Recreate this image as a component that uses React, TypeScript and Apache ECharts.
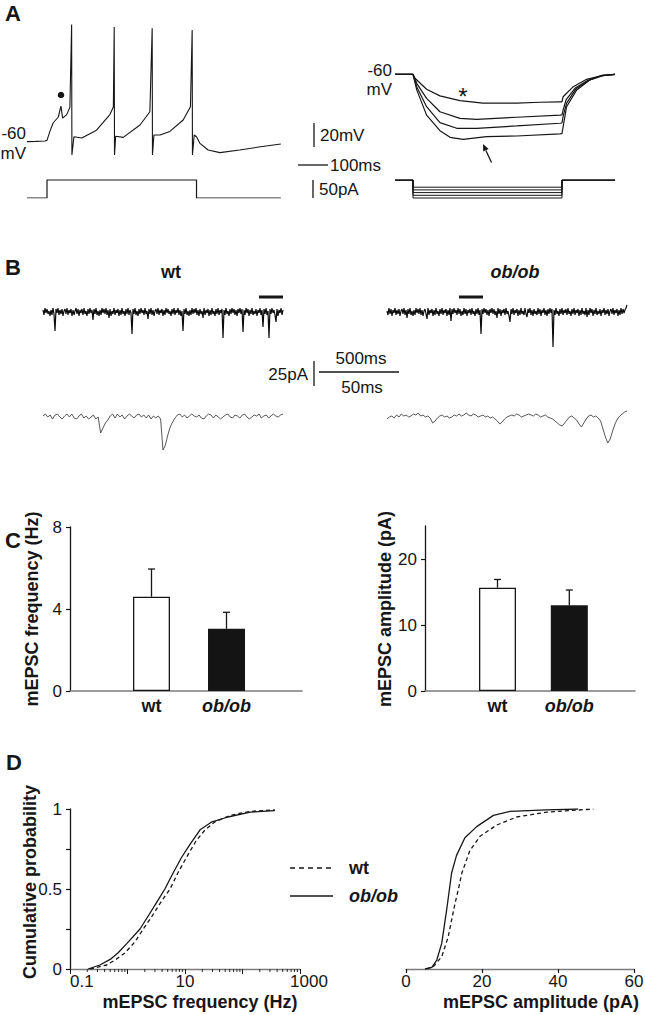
import React, { useEffect, useRef } from 'react';
import * as echarts from 'echarts';

const FONT = '"Liberation Sans", Arial, Helvetica, sans-serif';
const INK = '#161616';
const AXIS_GRAY = '#7c7c7c';

// ---------- Panel A : current clamp ----------
// left: depolarising step, membrane potential (ms, mV)
const aLeftVm = [
  [0, -60.5], [30, -60.3], [62, -60], [69, -59.5], [79, -52], [90, -45], [108, -40], [117, -31], [123, -41],
  [137, -38], [148, -32], [154, 37], [155, -71.7], [162, -56.5], [189, -57.5], [240, -51], [286, -38],
  [298, -31.7], [301, 35], [302, -71.7], [306, -56], [332, -57], [390, -46.7], [424, -35.6], [432, 34],
  [433, -71.7], [438, -55], [459, -55], [493, -52], [539, -42.5], [564, -31.4], [570, 32.5], [571, -71.7],
  [577, -55], [585, -56.4], [597, -62], [625, -67.5], [666, -69.7], [734, -67.5], [800, -65], [876, -62.5],
];
// left: injected current (ms, pA)
const aLeftI = [[0, 0], [69, 0], [69, 50], [585, 50], [585, 0], [876, 0]];
// right: hyperpolarising steps, membrane potential (ms, mV)
const aRightVm1 = [
  [0, -60], [62, -60], [69, -63.3], [109, -72.5], [155, -78], [224, -82], [303, -84], [420, -84], [500, -83.3],
  [569, -83], [576, -83], [580, -78.7], [615, -70.3], [661, -64.2], [707, -61.4], [759, -60],
];
const aRightVm2 = [
  [0, -60], [62, -60], [75, -67.5], [109, -80], [155, -91.2], [224, -96.7], [282, -97.5], [420, -95.8],
  [569, -94], [576, -93.8], [580, -89.8], [590, -81.4], [622, -71.4], [667, -64.8], [714, -61], [759, -60],
];
const aRightVm3 = [
  [0, -60], [62, -60], [75, -70.3], [109, -87], [155, -100.3], [213, -105], [282, -105], [420, -103],
  [569, -100.8], [576, -100.6], [580, -95], [592, -84], [625, -72], [670, -65], [718, -61.2], [759, -60],
];
const aRightVm4 = [
  [0, -60], [62, -60], [75, -73], [109, -94], [155, -107], [190, -112.5], [235, -114.2], [316, -112],
  [420, -111.4], [569, -109.7], [576, -109.5], [580, -103.7], [592, -87], [627, -73], [672, -64.8],
  [717, -60.6], [759, -60],
];
// right: current step amplitudes (pA) and timing (ms): start, on, off, end
const aRightSteps = [-20, -27.5, -35, -42.5, -50];
const aRightStepTimes = [0, 62, 576, 759];

// ---------- Panel B : mEPSC recordings (pA) ----------
const bTopDt = 6.25; // ms per sample, 500 ms traces
const bBottomDt = 1.5; // ms per sample, 50 ms traces
const bWtTop = [
  2, -3, 4, -1, 3, -2, 1, -4, 2, -3, 4, -2, -19, 3, -1, 4, -3, 2, -2, 3,
  -4, 1, 3, -2, 4, -3, 2, -1, 3, -4, 2, -3, 1, 4, -2, 3, -4, 2, -1, 3,
  -3, 4, -2, 1, -4, 3, -2, 4, -1, 2, -8, 3, -2, 4, -3, 1, -4, 2, -3, 4,
  -1, 3, -2, 4, -3, 2, -6, 3, -4, 1, -2, 4, -3, 2, -1, 3, -4, 2, -3, 4,
  -2, 1, -4, 3, -2, 4, -3, 2, -1, -22, 3, -2, 4, -3, 1, -4, 3, -2, 4, -1,
  2, -3, 4, -2, 1, -7, 3, -2, 4, -3, 2, -4, 1, 3, -2, 4, -3, 2, -1, 3,
  -4, 2, -3, 4, -1, 3, -2, 1, -4, 3, -2, 4, -3, 2, -1, 4, -3, 2, -4, 1,
  -19, 3, -2, 4, -3, 1, -4, 2, -3, 4, -2, 3, -1, 4, -3, 2, -4, 3, -2, 1,
  -6, 4, -3, 2, -1, 3, -4, 2, -3, 4, -2, 1, -4, 3, -2, 4, -3, 2, -1, 3,
  -26, 2, -3, 4, -2, 1, -4, 3, -2, 4, -1, 3, -3, 2, -4, 3, -1, 4, -2, 3,
  -20, 2, -3, 4, -1, 3, -4, 2, -2, 4, -3, 1, -2, 3, -4, 2, -1, 4, -3, 2,
  -15, 3, -2, 4, -3, 1, -26, 3, -2, 4, -1, 2, -3, -10, 3, -4, 2, -1, 4, -3,
  2,
];
const bObTop = [
  1, -3, 4, -2, 3, -4, 2, -1, 4, -3, 2, -2, 3, -4, 1, 3, -2, 4, -3, 2,
  -6, 3, -2, 4, -3, 1, -4, 2, -3, 4, -1, 3, -2, 4, -3, 2, -4, 1, 3, -2,
  -7, 4, -3, 2, -1, 3, -4, 2, -3, 4, -2, 1, -4, 3, -2, 4, -3, 2, -1, 3,
  -4, 2, -3, 4, -9, 3, -2, 4, -1, 2, -3, 4, -2, 3, -4, 1, -3, 4, -2, 3,
  -4, 2, -1, 3, -3, 4, -2, 1, -4, 3, -2, 4, -3, 2, -22, 3, -2, 4, -1, 3,
  -3, 2, -4, 3, -1, 4, -2, 3, -3, 1, -6, 4, -2, 3, -4, 2, -1, 3, -3, 4,
  -2, 1, -4, -10, 3, -2, 4, -3, 2, -1, 3, -4, 2, -3, 4, -2, 1, -3, 4, -2,
  -5, 3, -1, 4, -3, 2, -4, 3, -2, 1, -3, 4, -2, 3, -4, 2, -1, 4, -3, 2,
  -4, 3, -2, 4, -1, 3, -35, 2, -3, 4, -2, 1, -4, 3, -2, 4, -3, 2, -1, 3,
  -3, 4, -2, 1, -4, 3, -2, 4, -3, 2, -1, 3, -4, 2, -3, 4, -2, 1, -3, 4,
  -5, 2, -3, 4, -1, 3, -4, 2, -2, 4, -3, 1, -2, 3, -4, 2, -1, 4, -3, 2,
  -2, 3, -4, 1, 3, -2, 4, -3, 2, -1, 3, -4, 2, -3, 4, -2, 3, -1, 2, 4,
  7,
];
const bWtBottom = [
  1, 3, 0, 2, -2, 2, 3, 0, -2, 1, 3, 0, 3, -1, -2, 1, 3, -1, 1, -2,
  0, 2, -2, 0, -16, -11, -6, -3, 1, 3, -1, 3, 0, 2, -2, 1, 3, 1, -1, 2,
  3, 0, 2, -1, 2, -2, 1, -1, 1, -2, -33, -28, -18, -10, -5, -1, 2, 3, 0, 2,
  -1, 1, 3, 1, 0, 2, -1, -2, 1, 3, 2, -1, 2, 0, -2, 0, 2, 3, 0, -1,
  2, 1, -1, 2, 3, 0, -2, 0, 2, 1, 3, -1, 1, 2, -1, 1, 3, 1, 0, 2, 3,
];
const bObBottom = [
  -2, 0, 1, -1, 2, 0, 3, 1, 2, 0, 1, 3, 2, 4, 1, 2, 0, 1, -1, -6,
  -4, -1, 1, 2, 0, 1, -1, 0, 2, 1, 3, 1, 2, 4, 2, 1, 3, 2, 0, 1,
  2, 0, 1, -1, 0, -2, -4, -7, -5, -2, 0, 1, 2, 1, 3, 2, 0, 1, 2, 3,
  2, 1, 3, 2, 0, 1, 2, 0, -1, -2, -4, -6, -8, -9, -6, -3, 0, 1, -1, -3,
  -7, -10, -6, -2, 1, 2, 0, 1, -1, -4, -12, -20, -26, -22, -14, -7, -2, 1, 3, 5, 6,
];
// expanded 50 ms segments (ms on the 500 ms trace)
const bWtWindow = [1350, 1500];
const bObWindow = [450, 600];

// ---------- Panel C : means ± SEM ----------
const groups = ['wt', 'ob/ob'];
const freqMean = [4.6, 3.04];
const freqSem = [1.35, 0.8];
const ampMean = [15.65, 12.98];
const ampSem = [1.25, 2.32];

// ---------- Panel D : cumulative distributions ----------
const dFreqWt = [
  [0.223, 0], [0.435, 0.025], [0.63, 0.06], [0.9, 0.1], [1.35, 0.17], [1.88, 0.25], [2.67, 0.33], [3.84, 0.42],
  [5.5, 0.5], [7.5, 0.6], [10.7, 0.7], [15.5, 0.8], [22.3, 0.87], [33.3, 0.92], [60.5, 0.96], [136, 0.985], [366, 0.995],
];
const dFreqOb = [
  [0.206, 0], [0.33, 0.025], [0.5, 0.06], [0.68, 0.1], [0.98, 0.16], [1.65, 0.25], [2.47, 0.35], [3.4, 0.43],
  [4.47, 0.5], [6.2, 0.6], [8.8, 0.7], [12.3, 0.78], [18.3, 0.87], [29.5, 0.92], [56, 0.95], [136, 0.98], [366, 0.99],
];
const dAmpWt = [
  [5.4, 0], [7.2, 0.015], [9.4, 0.077], [11.1, 0.2], [12.9, 0.41], [13.8, 0.5], [14.7, 0.6], [16.8, 0.74],
  [19.5, 0.83], [23.9, 0.9], [29.1, 0.95], [37, 0.98], [49.3, 1.0],
];
const dAmpOb = [
  [5.0, 0], [6.8, 0.01], [8.1, 0.056], [9.4, 0.16], [10.7, 0.37], [12.0, 0.6], [13.3, 0.71], [15.5, 0.82],
  [18.6, 0.89], [23.0, 0.96], [27.4, 0.985], [37, 0.995], [45.3, 1.0],
];
const logDecades = [0.1, 1, 10, 100];
const logMinorMult = [2, 3, 4, 5, 6, 7, 8, 9];
const legendNames = ['wt', 'ob/ob'];

// ---------- helpers ----------
const grid = (left: number, top: number, width: number, height: number) => ({
  left, top, width, height, containLabel: false, outerBoundsMode: 'none',
});
const hidden = (gridIndex: number, min: number, max: number) => ({
  type: 'value', gridIndex, min, max, show: false, splitLine: { show: false },
});
const line = (idx: number, data: number[][], extra: any = {}) => ({
  type: 'line', xAxisIndex: idx, yAxisIndex: idx, data, symbol: 'none', showSymbol: false, silent: true,
  itemStyle: { color: INK }, lineStyle: { color: INK, width: 1 }, ...extra,
});
const txt = (x: number, y: number, text: string, o: any = {}) => ({
  type: 'text', x, y, silent: true, rotation: o.rotation || 0,
  style: {
    text, fill: INK, fontSize: o.size || 17, fontFamily: FONT, fontWeight: o.weight || 'normal',
    fontStyle: o.italic ? 'italic' : 'normal',
    align: o.align || 'left', textAlign: o.align || 'left', verticalAlign: 'middle', textVerticalAlign: 'middle',
  },
});
const seg = (x1: number, y1: number, x2: number, y2: number, w = 1.3, dash?: number[]) => ({
  type: 'line', silent: true, shape: { x1, y1, x2, y2 },
  style: { stroke: INK, lineWidth: w, lineDash: dash || null },
});

const labelRich = {
  b: { fontWeight: 'bold', fontSize: 18, fontFamily: FONT, color: INK },
  i: { fontWeight: 'bold', fontStyle: 'italic', fontSize: 18, fontFamily: FONT, color: INK },
};
const groupFmt = (v: string) => (v === 'ob/ob' ? '{i|ob/ob}' : '{b|' + v + '}');

const errorSeries = (idx: number, mean: number[], sem: number[]) => ({
  type: 'custom', xAxisIndex: idx, yAxisIndex: idx, silent: true, z: 5,
  data: mean.map((m, i) => [i, m, m + sem[i]]),
  encode: { x: 0, y: [1, 2] },
  renderItem: (_p: any, api: any) => {
    const a = api.coord([api.value(0), api.value(1)]);
    const b = api.coord([api.value(0), api.value(2)]);
    return {
      type: 'group',
      children: [
        { type: 'line', shape: { x1: a[0], y1: a[1], x2: b[0], y2: b[1] }, style: { stroke: INK, lineWidth: 1.3 } },
        { type: 'line', shape: { x1: b[0] - 3.5, y1: b[1], x2: b[0] + 3.5, y2: b[1] }, style: { stroke: INK, lineWidth: 1.3 } },
      ],
    };
  },
});
const barSeries = (idx: number, mean: number[]) => ({
  type: 'bar', xAxisIndex: idx, yAxisIndex: idx, barWidth: 37, silent: true,
  data: mean.map((v, i) => ({
    value: v,
    itemStyle: { color: i === 0 ? '#ffffff' : '#141414', borderColor: INK, borderWidth: 1.3 },
  })),
});

const valueAxisStyle = (color: string) => ({
  axisLine: { show: true, lineStyle: { color, width: 1.3 } },
  axisTick: { show: true, length: 4, inside: false, lineStyle: { color: INK, width: 1.2 } },
  axisLabel: { color: INK, fontSize: 17, fontFamily: FONT },
  splitLine: { show: false },
});

export default function App() {
  const ref = useRef<HTMLDivElement>(null);
  useEffect(() => {
    if (!ref.current) return;
    const chart = echarts.init(ref.current, undefined, { renderer: 'svg' });

    const stepTrace = (s: number) => [
      [aRightStepTimes[0], 0], [aRightStepTimes[1], 0], [aRightStepTimes[1], s],
      [aRightStepTimes[2], s], [aRightStepTimes[2], 0], [aRightStepTimes[3], 0],
    ];
    const logMinor: number[][] = [];
    logDecades.forEach((d) => logMinorMult.forEach((m) => logMinor.push([d * m, 0])));

    const option: any = {
      animation: false,
      backgroundColor: '#ffffff',
      grid: [
        grid(27, 21, 255, 144), // 0 A left Vm
        grid(27, 176.4, 255, 21.6), // 1 A left I
        grid(395, 62.3, 220, 84), // 2 A right Vm
        grid(395, 180, 220, 21.6), // 3 A right I
        grid(43, 292, 240, 60), // 4 B wt top
        grid(387, 292, 240, 60), // 5 B ob top
        grid(43, 407, 240, 50), // 6 B wt bottom
        grid(387, 407, 240, 50), // 7 B ob bottom
        grid(70, 527, 232, 164), // 8 C left axes
        grid(114, 527, 150, 164), // 9 C left bars
        grid(425, 526, 210, 165), // 10 C right axes
        grid(461.6, 526, 143.6, 165), // 11 C right bars
        grid(70, 809, 230, 160), // 12 D left
        grid(406, 809, 228, 160), // 13 D right
      ],
      xAxis: [
        hidden(0, 0, 880), hidden(1, 0, 880), hidden(2, 0, 759), hidden(3, 0, 759),
        hidden(4, 0, 1500), hidden(5, 0, 1500), hidden(6, 0, 150), hidden(7, 0, 150),
        {
          type: 'value', gridIndex: 8, min: 0, max: 1,
          axisLine: { show: true, lineStyle: { color: AXIS_GRAY, width: 1.6 } },
          axisTick: { show: false }, axisLabel: { show: false }, splitLine: { show: false },
        },
        {
          type: 'category', gridIndex: 9, data: groups, boundaryGap: true,
          axisLine: { show: false }, axisTick: { show: false },
          axisLabel: { margin: 6, formatter: groupFmt, rich: labelRich },
        },
        {
          type: 'value', gridIndex: 10, min: 0, max: 1,
          axisLine: { show: true, lineStyle: { color: AXIS_GRAY, width: 1.6 } },
          axisTick: { show: false }, axisLabel: { show: false }, splitLine: { show: false },
        },
        {
          type: 'category', gridIndex: 11, data: groups, boundaryGap: true,
          axisLine: { show: false }, axisTick: { show: false },
          axisLabel: { margin: 6, formatter: groupFmt, rich: labelRich },
        },
        {
          type: 'log', gridIndex: 12, min: 0.1, max: 1000, logBase: 10,
          ...valueAxisStyle(AXIS_GRAY),
          axisTick: { show: true, length: 5, lineStyle: { color: INK, width: 1 } },
          axisLabel: {
            color: INK, fontSize: 17, fontFamily: FONT, margin: 4, alignMinLabel: 'left',
            formatter: (v: number) => {
              const e = Math.round(Math.log10(v));
              if ((e + 1) % 2 !== 0) return '';
              if (e < 0) return '0.1';
              if (e === 3) return '{r|1000}';
              return String(Math.pow(10, e));
            },
            rich: { r: { fontSize: 17, fontFamily: FONT, color: INK, padding: [0, 0, 0, 18] } },
          },
        },
        {
          type: 'value', gridIndex: 13, min: 0, max: 60, interval: 20,
          ...valueAxisStyle(AXIS_GRAY),
          axisLabel: { color: INK, fontSize: 17, fontFamily: FONT, margin: 4 },
        },
      ],
      yAxis: [
        hidden(0, -80, 40), hidden(1, 0, 60), hidden(2, -120, -50), hidden(3, -60, 0),
        hidden(4, -40, 20), hidden(5, -40, 20), hidden(6, -40, 10), hidden(7, -40, 10),
        {
          type: 'value', gridIndex: 8, min: 0, max: 8, interval: 4, ...valueAxisStyle(INK),
          axisLabel: { color: INK, fontSize: 17, fontFamily: FONT, margin: 8 },
        },
        hidden(9, 0, 8),
        {
          type: 'value', gridIndex: 10, min: 0, max: 25, interval: 10, ...valueAxisStyle(INK),
          axisTick: { show: true, length: 4, lineStyle: { color: INK, width: 1.2 }, customValues: [0, 10, 20] },
          axisLabel: { color: INK, fontSize: 17, fontFamily: FONT, margin: 8, customValues: [0, 10, 20] },
        },
        hidden(11, 0, 25),
        {
          type: 'value', gridIndex: 12, min: 0, max: 1, interval: 0.25, ...valueAxisStyle(INK),
          axisLabel: {
            color: INK, fontSize: 17, fontFamily: FONT, margin: 8,
            formatter: (v: number) => (v === 0 || v === 0.5 || v === 1 ? String(v) : ''),
          },
        },
        hidden(13, 0, 1),
      ],
      series: [
        // A
        line(0, aLeftVm, { lineStyle: { color: INK, width: 1.1 } }),
        line(1, aLeftI, { lineStyle: { color: INK, width: 1.2 } }),
        line(2, aRightVm1, { lineStyle: { color: INK, width: 1.2 } }),
        line(2, aRightVm2, { lineStyle: { color: INK, width: 1.2 } }),
        line(2, aRightVm3, { lineStyle: { color: INK, width: 1.2 } }),
        line(2, aRightVm4, { lineStyle: { color: INK, width: 1.2 } }),
        ...aRightSteps.map((s) => line(3, stepTrace(s), { lineStyle: { color: INK, width: 1 } })),
        // B
        line(4, bWtTop.map((v, i) => [i * bTopDt, v]), { lineStyle: { color: '#0c0c0c', width: 1.2 } }),
        line(5, bObTop.map((v, i) => [i * bTopDt, v]), { lineStyle: { color: '#0c0c0c', width: 1.2 } }),
        line(4, bWtWindow.map((t) => [t, 15]), { lineStyle: { color: INK, width: 3 } }),
        line(5, bObWindow.map((t) => [t, 15]), { lineStyle: { color: INK, width: 3 } }),
        line(6, bWtBottom.map((v, i) => [i * bBottomDt, v]), { lineStyle: { color: '#444', width: 0.9 } }),
        line(7, bObBottom.map((v, i) => [i * bBottomDt, v]), { lineStyle: { color: '#444', width: 0.9 } }),
        // C
        barSeries(9, freqMean),
        errorSeries(9, freqMean, freqSem),
        barSeries(11, ampMean),
        errorSeries(11, ampMean, ampSem),
        // D
        line(12, dFreqWt, { name: 'wt', lineStyle: { color: INK, width: 1.3, type: [4, 3] } }),
        line(12, dFreqOb, { name: 'ob/ob', lineStyle: { color: INK, width: 1.3 } }),
        line(13, dAmpWt, { name: 'wt', lineStyle: { color: INK, width: 1.3, type: [4, 3] } }),
        line(13, dAmpOb, { name: 'ob/ob', lineStyle: { color: INK, width: 1.3 } }),
        {
          type: 'custom', xAxisIndex: 12, yAxisIndex: 12, silent: true, clip: false,
          data: logMinor, encode: { x: 0, y: 1 },
          renderItem: (_p: any, api: any) => {
            const p = api.coord([api.value(0), 0]);
            return { type: 'line', shape: { x1: p[0], y1: p[1], x2: p[0], y2: p[1] + 3 }, style: { stroke: INK, lineWidth: 0.9 } };
          },
        },
      ],
      graphic: {
        elements: [
          // panel letters
          txt(5, 13, 'A', { size: 22, weight: 'bold' }),
          txt(5, 267, 'B', { size: 22, weight: 'bold' }),
          txt(5, 540, 'C', { size: 22, weight: 'bold' }),
          txt(6, 762, 'D', { size: 22, weight: 'bold' }),
          // A annotations
          txt(26, 133, '-60', { align: 'right' }),
          txt(26, 153, 'mV', { align: 'right' }),
          { type: 'circle', silent: true, shape: { cx: 61, cy: 95, r: 3.3 }, style: { fill: INK } },
          seg(314, 123, 314, 147),
          txt(320, 135, '20mV'),
          seg(298, 165, 328, 165),
          txt(330, 165, '100ms'),
          seg(313, 180, 313, 198),
          txt(319, 189, '50pA'),
          txt(392, 70, '-60', { align: 'right' }),
          txt(392, 89, 'mV', { align: 'right' }),
          txt(463, 96, '*', { size: 24, align: 'center' }),
          seg(491.5, 162.5, 485.9, 150.4, 1.3),
          { type: 'polygon', silent: true, shape: { points: [[483, 144], [488.6, 149.1], [483.2, 151.6]] }, style: { fill: INK } },
          // B annotations
          txt(171, 272, 'wt', { size: 18, weight: 'bold', align: 'center' }),
          txt(515, 272, 'ob/ob', { size: 18, weight: 'bold', italic: true, align: 'center' }),
          txt(308, 374, '25pA', { align: 'right' }),
          seg(314, 361, 314, 386),
          seg(319, 372, 399, 372),
          txt(361, 358, '500ms', { align: 'center' }),
          txt(362, 387, '50ms', { align: 'center' }),
          // C titles
          txt(32, 609, 'mEPSC frequency (Hz)', { size: 18, weight: 'bold', align: 'center', rotation: Math.PI / 2 }),
          txt(385, 609, 'mEPSC amplitude (pA)', { size: 18, weight: 'bold', align: 'center', rotation: Math.PI / 2 }),
          // D titles
          txt(30, 882, 'Cumulative probability', { size: 18, weight: 'bold', align: 'center', rotation: Math.PI / 2 }),
          txt(200, 1002, 'mEPSC frequency (Hz)', { size: 18, weight: 'bold', align: 'center' }),
          txt(541, 1002, 'mEPSC amplitude (pA)', { size: 18, weight: 'bold', align: 'center' }),
          // D key
          seg(290, 868, 333, 868, 1.3, [5, 4]),
          seg(290, 896, 333, 896, 1.3),
          txt(349, 868, legendNames[0], { size: 18, weight: 'bold' }),
          txt(349, 896, legendNames[1], { size: 18, weight: 'bold', italic: true }),
        ],
      },
    };
    chart.setOption(option);
    return () => chart.dispose();
  }, []);
  return <div ref={ref} style={{ position: 'absolute', left: 0, top: 0, width: 645, height: 1015 }} />;
}
